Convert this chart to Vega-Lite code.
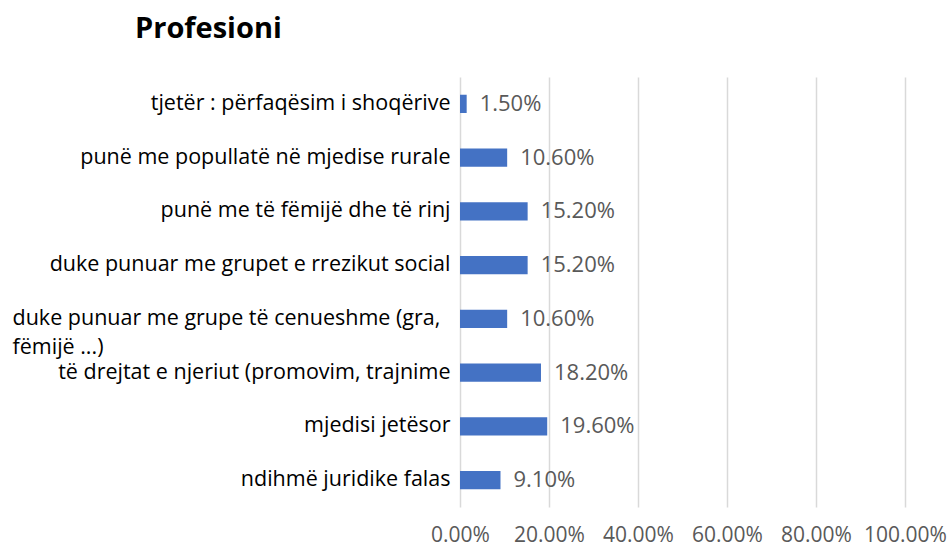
{
  "$schema": "https://vega.github.io/schema/vega-lite/v6.json",
  "autosize": "none",
  "width": 445,
  "height": 430,
  "padding": {"left": 460, "top": 77, "right": 47, "bottom": 40},
  "background": "white",
  "title": {
    "text": "Profesioni",
    "anchor": "start",
    "frame": "group",
    "dx": -325,
    "offset": 33,
    "font": "Open Sans",
    "fontSize": 29,
    "fontWeight": "bold",
    "color": "#000000"
  },
  "data": {
    "values": [
      {"profesioni": "tjetër : përfaqësim i shoqërive", "vlera": 0.015},
      {"profesioni": "punë me popullatë në mjedise rurale", "vlera": 0.106},
      {"profesioni": "punë me të fëmijë dhe të rinj", "vlera": 0.152},
      {"profesioni": "duke punuar me grupet e rrezikut social", "vlera": 0.152},
      {"profesioni": "duke punuar me grupe të cenueshme (gra, fëmijë ...)", "vlera": 0.106},
      {"profesioni": "të drejtat e njeriut (promovim, trajnime", "vlera": 0.182},
      {"profesioni": "mjedisi jetësor", "vlera": 0.196},
      {"profesioni": "ndihmë juridike falas", "vlera": 0.091}
    ]
  },
  "encoding": {
    "y": {
      "field": "profesioni",
      "type": "nominal",
      "sort": null,
      "scale": {"paddingInner": 0.66, "paddingOuter": 0.33},
      "axis": {
        "title": null,
        "domain": false,
        "ticks": false,
        "labelFont": "Open Sans",
        "labelFontSize": 21.5,
        "labelColor": "#000000",
        "labelAlign": {"condition": {"test": "indexof(datum.value, '(gra,') > 0", "value": "left"}, "value": "right"},
        "labelPadding": {"condition": {"test": "indexof(datum.value, '(gra,') > 0", "value": 448}, "value": 10},
        "labelLimit": 500,
        "labelBaseline": "top",
        "labelOffset": -11,
        "labelLineHeight": 29,
        "labelExpr": "indexof(datum.value, '(gra,') > 0 ? ['duke punuar me grupe të cenueshme (gra,', 'fëmijë ...)'] : datum.value"
      }
    },
    "x": {
      "field": "vlera",
      "type": "quantitative",
      "scale": {"domain": [0, 1], "nice": false},
      "axis": {
        "title": null,
        "format": ".2%",
        "values": [0, 0.2, 0.4, 0.6, 0.8, 1],
        "domain": false,
        "ticks": false,
        "grid": true,
        "gridColor": "#d9d9d9",
        "gridWidth": 1.5,
        "labelFont": "Open Sans",
        "labelFontSize": 21,
        "labelColor": "#595959",
        "labelPadding": 17,
        "labelFlush": false
      }
    }
  },
  "layer": [
    {"mark": {"type": "bar", "color": "#4472C4"}},
    {
      "mark": {"type": "text", "align": "left", "dx": 13, "font": "Open Sans", "fontSize": 22, "color": "#595959"},
      "encoding": {"text": {"field": "vlera", "type": "quantitative", "format": ".2%"}}
    }
  ],
  "config": {"view": {"stroke": null}}
}
